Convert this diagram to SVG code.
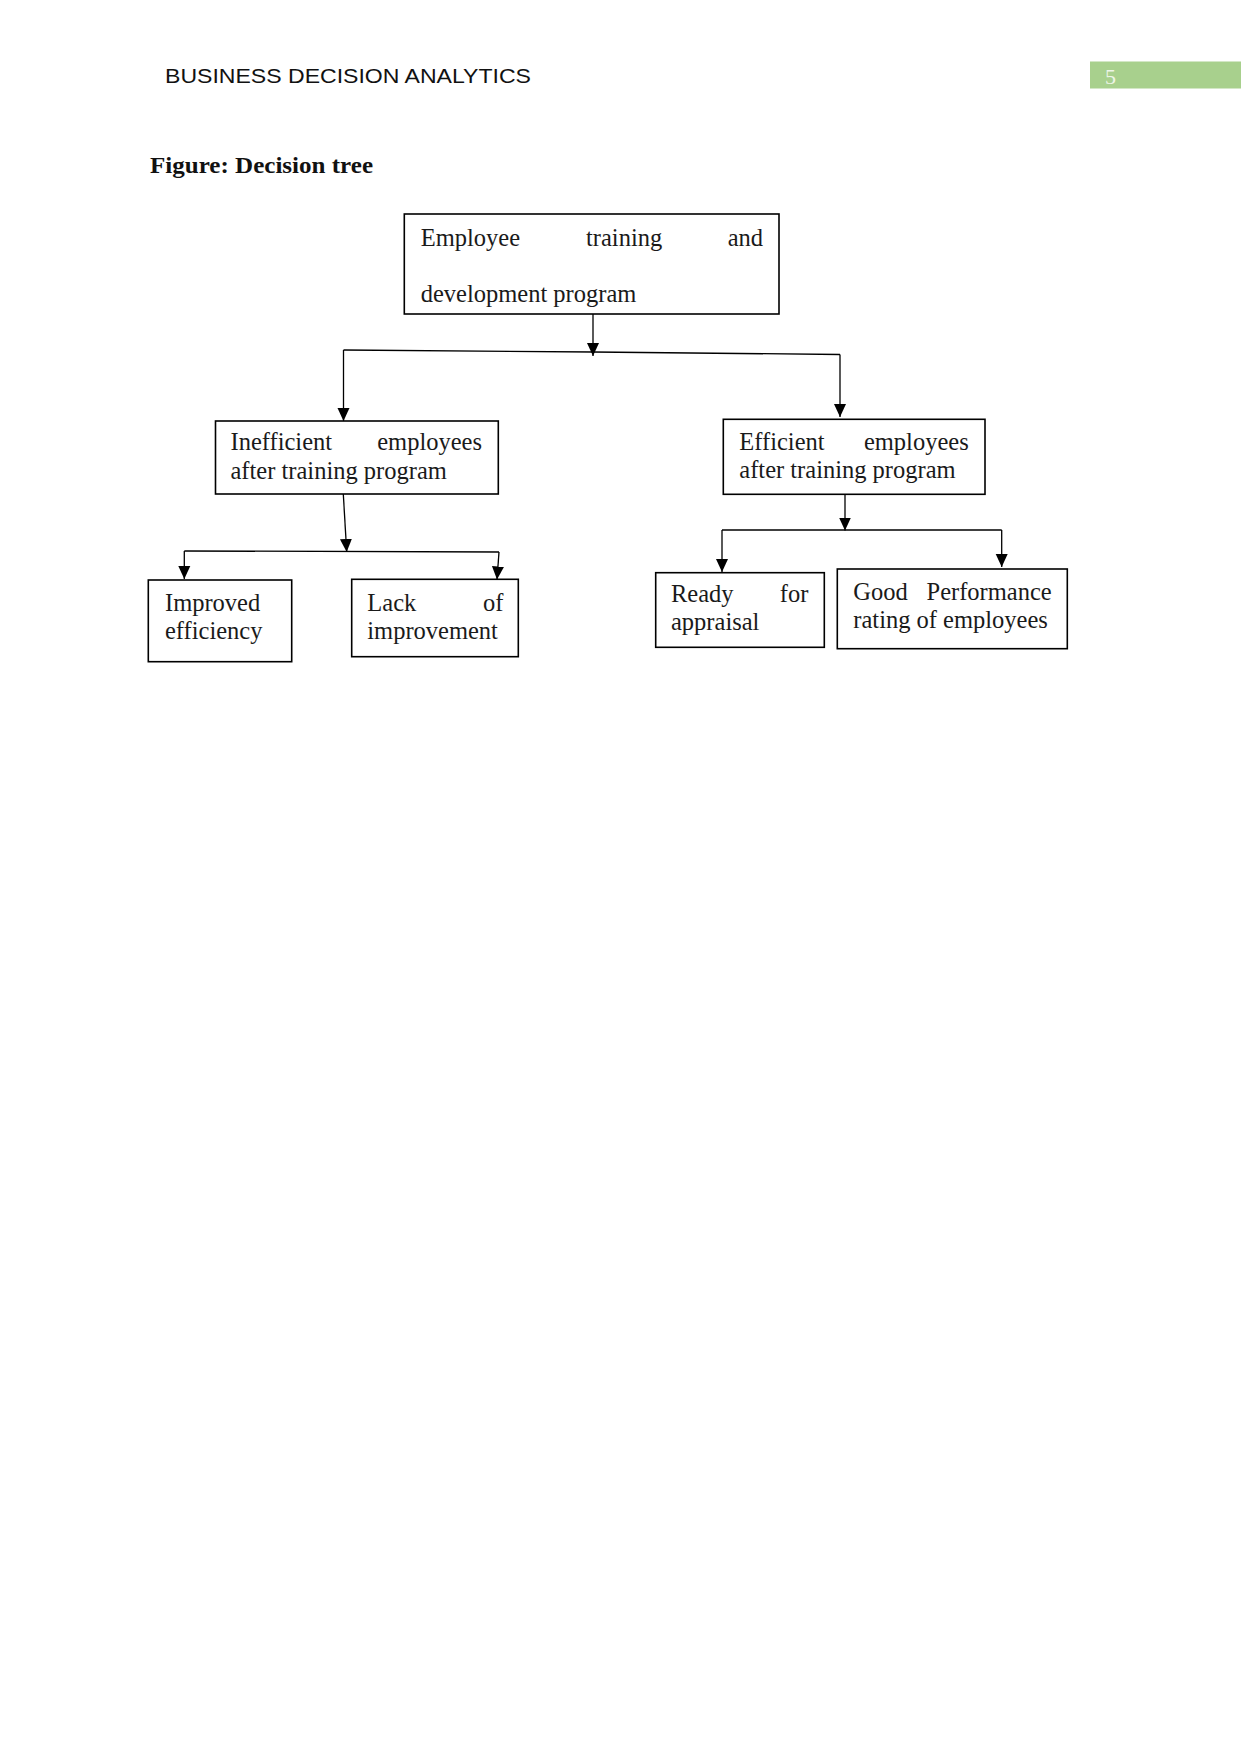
<svg xmlns="http://www.w3.org/2000/svg" width="1241" height="1754" viewBox="0 0 1241 1754">
<defs>
<style>
.box{fill:#fff;stroke:#000;stroke-width:1.6}
.t{font-family:"Liberation Serif","Times New Roman",serif;font-size:24.5px;fill:#1a1a1a}
.c{fill:none;stroke:#000;stroke-width:1.3}
</style>
<marker id="ah" markerUnits="userSpaceOnUse" markerWidth="14" markerHeight="14" viewBox="0 0 14 14" refX="13" refY="7" orient="auto">
<path d="M0,1 L13,7 L0,13 Z" fill="#000"/>
</marker>
</defs>
<rect width="1241" height="1754" fill="#fff"/>
<g id="header">
<text x="165" y="83" font-family="Liberation Sans, Arial, sans-serif" font-size="21" fill="#111" textLength="366" lengthAdjust="spacingAndGlyphs">BUSINESS DECISION ANALYTICS</text>
<rect x="1090" y="61.5" width="151" height="27" fill="#a8d08d"/>
<text x="1105" y="84" font-family="Liberation Serif, serif" font-size="22" fill="#eef5e8">5</text>
</g>
<text x="150" y="173" font-family="Liberation Serif, Times New Roman, serif" font-size="24" font-weight="bold" fill="#111" textLength="223" lengthAdjust="spacingAndGlyphs">Figure: Decision tree</text>
<g id="connectors">
<path class="c" d="M593,314 L593,356" marker-end="url(#ah)"/>
<path class="c" d="M343.5,350 L593,352 L840,354.5"/>
<path class="c" d="M343.5,350 L343.5,421" marker-end="url(#ah)"/>
<path class="c" d="M840,354.5 L840,417" marker-end="url(#ah)"/>
<path class="c" d="M343.3,494 L346.7,552" marker-end="url(#ah)"/>
<path class="c" d="M184.3,551 L499,552"/>
<path class="c" d="M184.3,551 L184.3,579" marker-end="url(#ah)"/>
<path class="c" d="M499,552 L497,579.5" marker-end="url(#ah)"/>
<path class="c" d="M845,495 L845,530.5" marker-end="url(#ah)"/>
<path class="c" d="M722,530 L1001.7,530"/>
<path class="c" d="M722,530 L722,572" marker-end="url(#ah)"/>
<path class="c" d="M1001.7,530 L1001.7,567" marker-end="url(#ah)"/>
</g>
<g id="root">
<rect class="box" x="404.3" y="214" width="374.7" height="100"/>
<text class="t" x="420.7" y="245.7">Employee</text>
<text class="t" x="586" y="245.7">training</text>
<text class="t" x="763" y="245.7" text-anchor="end">and</text>
<text class="t" x="420.7" y="301.7">development program</text>
</g>
<g id="inefficient">
<rect class="box" x="215.5" y="421" width="282.8" height="73"/>
<text class="t" x="230.5" y="450">Inefficient</text>
<text class="t" x="482" y="450" text-anchor="end">employees</text>
<text class="t" x="230.5" y="479">after training program</text>
</g>
<g id="efficient">
<rect class="box" x="723.3" y="419.3" width="261.7" height="75"/>
<text class="t" x="739.3" y="450">Efficient</text>
<text class="t" x="968.7" y="450" text-anchor="end">employees</text>
<text class="t" x="739.3" y="477.7">after training program</text>
</g>
<g id="improved">
<rect class="box" x="148.3" y="580" width="143.4" height="81.7"/>
<text class="t" x="165" y="611">Improved</text>
<text class="t" x="165" y="639.3">efficiency</text>
</g>
<g id="lack">
<rect class="box" x="351.7" y="579.3" width="166.6" height="77.4"/>
<text class="t" x="367.3" y="611">Lack</text>
<text class="t" x="503.3" y="611" text-anchor="end">of</text>
<text class="t" x="367.3" y="639.3">improvement</text>
</g>
<g id="ready">
<rect class="box" x="655.7" y="572.7" width="168.6" height="74.6"/>
<text class="t" x="671" y="601.7">Ready</text>
<text class="t" x="808.3" y="601.7" text-anchor="end">for</text>
<text class="t" x="671" y="630">appraisal</text>
</g>
<g id="good">
<rect class="box" x="837.3" y="569" width="230" height="79.7"/>
<text class="t" x="853.3" y="600">Good</text>
<text class="t" x="1051.7" y="600" text-anchor="end">Performance</text>
<text class="t" x="853.3" y="628.3">rating of employees</text>
</g>
</svg>
